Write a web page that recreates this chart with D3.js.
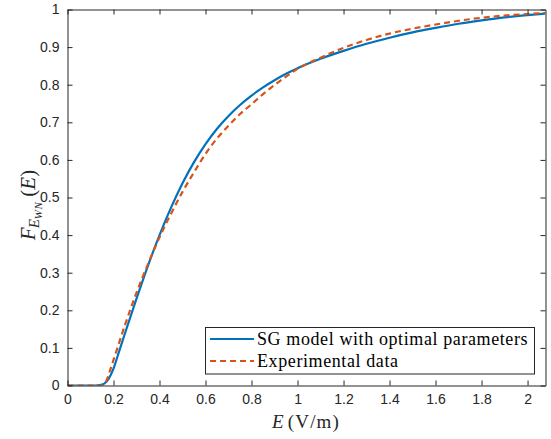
<!DOCTYPE html>
<html lang="en">
<head>
<meta charset="utf-8">
<title>F_EWN(E)</title>
<script src="https://d3js.org/d3.v7.min.js"></script>
<style>
  body { margin: 0; background: #fff; }
  svg { display: block; }
</style>
</head>
<body>
<script>
// field values (V/m) and CDF values
var modelE = [0, 0.05, 0.1, 0.12, 0.14, 0.16, 0.18, 0.2, 0.225, 0.25, 0.3, 0.35, 0.4, 0.45, 0.5, 0.55, 0.6, 0.65, 0.7, 0.75, 0.8, 0.85, 0.9, 0.95, 1.0, 1.1, 1.2, 1.3, 1.4, 1.5, 1.6, 1.7, 1.8, 1.9, 2.0, 2.078];
var modelF = [0, 0, 0, 0, 0.001, 0.005, 0.019, 0.045, 0.092, 0.139, 0.231, 0.319, 0.400, 0.473, 0.538, 0.594, 0.642, 0.683, 0.717, 0.746, 0.771, 0.793, 0.812, 0.829, 0.844, 0.869, 0.890, 0.909, 0.925, 0.939, 0.951, 0.962, 0.971, 0.979, 0.985, 0.989];

var expE = [0, 0.1, 0.15, 0.16, 0.17, 0.185, 0.2, 0.25, 0.3, 0.35, 0.4, 0.45, 0.5, 0.55, 0.6, 0.65, 0.7, 0.75, 0.8, 0.85, 0.9, 1.0, 1.1, 1.2, 1.3, 1.4, 1.5, 1.6, 1.7, 1.8, 1.9, 2.0, 2.078];
var expF = [0, 0, 0, 0.003, 0.014, 0.04, 0.068, 0.161, 0.247, 0.323, 0.394, 0.457, 0.515, 0.567, 0.616, 0.657, 0.691, 0.722, 0.748, 0.775, 0.799, 0.842, 0.872, 0.898, 0.919, 0.936, 0.949, 0.960, 0.970, 0.978, 0.984, 0.988, 0.991];

var xTicks = [0, 0.2, 0.4, 0.6, 0.8, 1, 1.2, 1.4, 1.6, 1.8, 2];
var yTicks = [0, 0.1, 0.2, 0.3, 0.4, 0.5, 0.6, 0.7, 0.8, 0.9, 1];

var legendNames = ["SG model with optimal parameters", "Experimental data"];

var W = 551, H = 439;
var mLeft = 67.5, mRight = 545.5, mTop = 9.5, mBottom = 385.5;
var axisCol = "#262626";
var blue = "#0072BD", red = "#D95319";

var svg = d3.select("body").append("svg")
    .attr("width", W)
    .attr("height", H);

var x = d3.scaleLinear().domain([0, 2.078]).range([mLeft, mRight]);
var y = d3.scaleLinear().domain([0, 1]).range([mBottom, mTop]);

svg.append("clipPath").attr("id", "clip")
  .append("rect")
    .attr("x", mLeft).attr("y", mTop)
    .attr("width", mRight - mLeft).attr("height", mBottom - mTop);

var line = d3.line()
    .x(function(d) { return x(d[0]); })
    .y(function(d) { return y(d[1]); })
    .curve(d3.curveMonotoneX);

var plot = svg.append("g").attr("clip-path", "url(#clip)");

plot.append("path")
    .datum(d3.zip(modelE, modelF))
    .attr("fill", "none")
    .attr("stroke", blue)
    .attr("stroke-width", 2.2)
    .attr("d", line);

plot.append("path")
    .datum(d3.zip(expE, expF))
    .attr("fill", "none")
    .attr("stroke", red)
    .attr("stroke-width", 2.2)
    .attr("stroke-dasharray", "6,4")
    .attr("d", line);

/* axes: MATLAB style box with inward ticks */
var fmt = function(d) { return d3.format("~g")(d); };

svg.append("g")
    .attr("transform", "translate(0," + mBottom + ")")
    .call(d3.axisBottom(x).tickValues(xTicks).tickFormat(fmt).tickSizeInner(-5).tickSizeOuter(0).tickPadding(9));
svg.append("g")
    .attr("transform", "translate(0," + mTop + ")")
    .call(d3.axisTop(x).tickValues(xTicks).tickFormat("").tickSizeInner(-5).tickSizeOuter(0));
svg.append("g")
    .attr("transform", "translate(" + mLeft + ",0)")
    .call(d3.axisLeft(y).tickValues(yTicks).tickFormat(fmt).tickSizeInner(-5).tickSizeOuter(0).tickPadding(8));
svg.append("g")
    .attr("transform", "translate(" + mRight + ",0)")
    .call(d3.axisRight(y).tickValues(yTicks).tickFormat("").tickSizeInner(-5).tickSizeOuter(0));

svg.selectAll(".domain, .tick line")
    .attr("stroke", axisCol)
    .attr("stroke-width", 1);
svg.selectAll(".tick text")
    .attr("fill", axisCol)
    .attr("font-family", "Liberation Sans, Arial, sans-serif")
    .attr("font-size", 14);

/* axis labels */
var serif = "Liberation Serif, Times New Roman, serif";

var xlab = svg.append("text")
    .attr("x", 306)
    .attr("y", 428)
    .attr("text-anchor", "middle")
    .attr("font-family", serif)
    .attr("font-size", 19)
    .attr("letter-spacing", 1.2)
    .attr("fill", axisCol);
xlab.append("tspan").attr("font-style", "italic").text("E");
xlab.append("tspan").attr("dx", 3).text("(V/m)");

var ylab = svg.append("text")
    .attr("transform", "translate(35,205) rotate(-90)")
    .attr("text-anchor", "middle")
    .attr("font-family", serif)
    .attr("font-size", 21)
    .attr("fill", axisCol);
ylab.append("tspan").attr("font-style", "italic").text("F");
ylab.append("tspan").attr("font-style", "italic").attr("font-size", 15).attr("dy", 4).attr("dx", -1).text("E");
ylab.append("tspan").attr("font-style", "italic").attr("font-size", 11).attr("dy", 3).attr("letter-spacing", 0.5).text("WN");
ylab.append("tspan").attr("dy", -7).attr("dx", 5).text("(");
ylab.append("tspan").attr("font-style", "italic").text("E");
ylab.append("tspan").text(")");

/* legend */
var lg = svg.append("g");
lg.append("rect")
    .attr("x", 205.5).attr("y", 327.5)
    .attr("width", 329).attr("height", 46.5)
    .attr("fill", "#fff")
    .attr("stroke", axisCol)
    .attr("stroke-width", 1);

var legendRows = [
  { name: legendNames[0], color: blue, dash: null, y: 339 },
  { name: legendNames[1], color: red, dash: "6,4", y: 361 }
];
legendRows.forEach(function(r) {
  lg.append("line")
    .attr("x1", 210).attr("x2", 254)
    .attr("y1", r.y).attr("y2", r.y)
    .attr("stroke", r.color)
    .attr("stroke-width", 2.2)
    .attr("stroke-dasharray", r.dash);
  lg.append("text")
    .attr("x", 257)
    .attr("y", r.y + 5.5)
    .attr("font-family", serif)
    .attr("font-size", 18)
    .attr("letter-spacing", 0.6)
    .attr("fill", "#000")
    .text(r.name);
});
</script>
</body>
</html>
